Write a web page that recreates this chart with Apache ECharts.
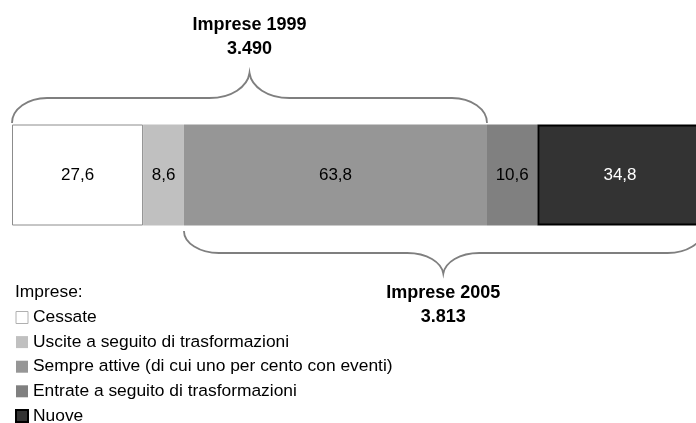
<!DOCTYPE html>
<html><head><meta charset="utf-8">
<script src="https://cdn.jsdelivr.net/npm/echarts@6/dist/echarts.min.js"></script>
<style>html,body{margin:0;padding:0;background:#fff}#c{width:696px;height:423px}</style>
</head><body><div id="c"></div>
<script>
const categories = ['Imprese'];
const seriesNames = ['Cessate', 'Uscite a seguito di trasformazioni', 'Sempre attive (di cui uno per cento con eventi)', 'Entrate a seguito di trasformazioni', 'Nuove'];
const values = [27.6, 8.6, 63.8, 10.6, 34.8];
const braceTitles = ['Imprese 1999', 'Imprese 2005'];
const braceTotals = ['3.490', '3.813'];
const legendTitle = 'Imprese:';
// visible part of the value axis (the last bar runs past the right edge of the picture)
const axisMax = 144;

const FONT = "'Liberation Sans', Arial, sans-serif";
const fills = ['#ffffff', '#c0c0c0', '#969696', '#808080', '#333333'];
const borders = ['#8c8c8c', null, null, null, '#000000'];
const borderW = [1, 0, 0, 0, 2];
const labelColors = ['#000', '#000', '#000', '#000', '#fff'];

const total = values.reduce((s, v) => s + v, 0);
const first = values[0] + values[1] + values[2];
const bracesData = [
  [0, first, 0, 0],
  [values[0] + values[1], total, 0, 1]
];

function renderBrace(params, api) {
  const a = api.value(0), b = api.value(1), side = api.value(3);
  const p0 = api.coord([a, 0]), p1 = api.coord([b, 0]);
  const band = api.size([0, 1])[1];
  const up = side === 0;
  const d = up ? -1 : 1;
  const edge = p0[1] + d * band / 2;
  const gap = up ? 1.5 : 5.5;
  const h1 = up ? 25 : 22, h2 = up ? 25 : 20.5;
  const x0 = p0[0], x1 = p1[0], xm = (x0 + x1) / 2;
  const y0 = edge + d * gap, yh = y0 + d * h1, yt = yh + d * h2;
  const re = 35, rm = up ? 40 : 36;
  const k = 0.55;
  const path =
    `M${x0},${y0} C${x0},${y0 + (yh - y0) * k} ${x0 + re * (1 - k)},${yh} ${x0 + re},${yh} ` +
    `L${xm - rm},${yh} C${xm - rm * 0.45},${yh} ${xm - 2},${yh + d * h2 * 0.45} ${xm},${yt} ` +
    `C${xm + 2},${yh + d * h2 * 0.45} ${xm + rm * 0.45},${yh} ${xm + rm},${yh} ` +
    `L${x1 - re},${yh} C${x1 - re * (1 - k)},${yh} ${x1},${y0 + (yh - y0) * k} ${x1},${y0}`;
  const i = params.dataIndex;
  return {
    type: 'group',
    children: [
      { type: 'path', shape: { pathData: path }, style: { fill: 'none', stroke: '#7f7f7f', lineWidth: 1.8 } },
      {
        type: 'text', x: xm, y: up ? yt - 12 : yt + 8,
        style: {
          text: braceTitles[i] + '\n' + braceTotals[i],
          fill: '#000', font: "bold 18px " + FONT,
          align: 'center', verticalAlign: up ? 'bottom' : 'top', lineHeight: 24
        }
      }
    ]
  };
}

const series = values.map((v, i) => ({
  name: seriesNames[i],
  type: 'bar',
  stack: 'all',
  barWidth: '100%',
  clip: false,
  data: [v],
  itemStyle: { color: fills[i], borderColor: borders[i] || fills[i], borderWidth: borderW[i] },
  label: {
    show: true, position: 'inside', color: labelColors[i], fontSize: 17, fontFamily: FONT,
    formatter: p => p.value.toFixed(1).replace('.', ',')
  },
  emphasis: { disabled: true },
  silent: true
}));
series.push({
  type: 'custom',
  renderItem: renderBrace,
  encode: { x: [0, 1], y: 2 },
  data: bracesData,
  clip: false,
  silent: true,
  z: 5
});

const chart = echarts.init(document.getElementById('c'));
chart.setOption({
  animation: false,
  title: {
    text: legendTitle, left: 15, top: 284, padding: 0,
    textStyle: { fontSize: 17.4, fontWeight: 'normal', color: '#000', fontFamily: FONT }
  },
  legend: {
    orient: 'vertical', left: 15, top: 309, padding: 0, height: 200,
    itemWidth: 12, itemHeight: 12, itemGap: 7.6, icon: 'rect',
    textStyle: { fontSize: 17.4, color: '#000', fontFamily: FONT },
    data: seriesNames.map((n, i) => ({
      name: n,
      itemStyle: { color: fills[i], borderColor: i === 0 ? '#b0b0b0' : (borders[i] || fills[i]), borderWidth: i === 0 ? 1 : (i === 4 ? 2 : 0) }
    }))
  },
  grid: { left: 12, top: 124.5, height: 101, right: 0 },
  xAxis: { type: 'value', min: 0, max: axisMax, show: false },
  yAxis: { type: 'category', data: categories, show: false },
  series: series
});
</script>
</body></html>
